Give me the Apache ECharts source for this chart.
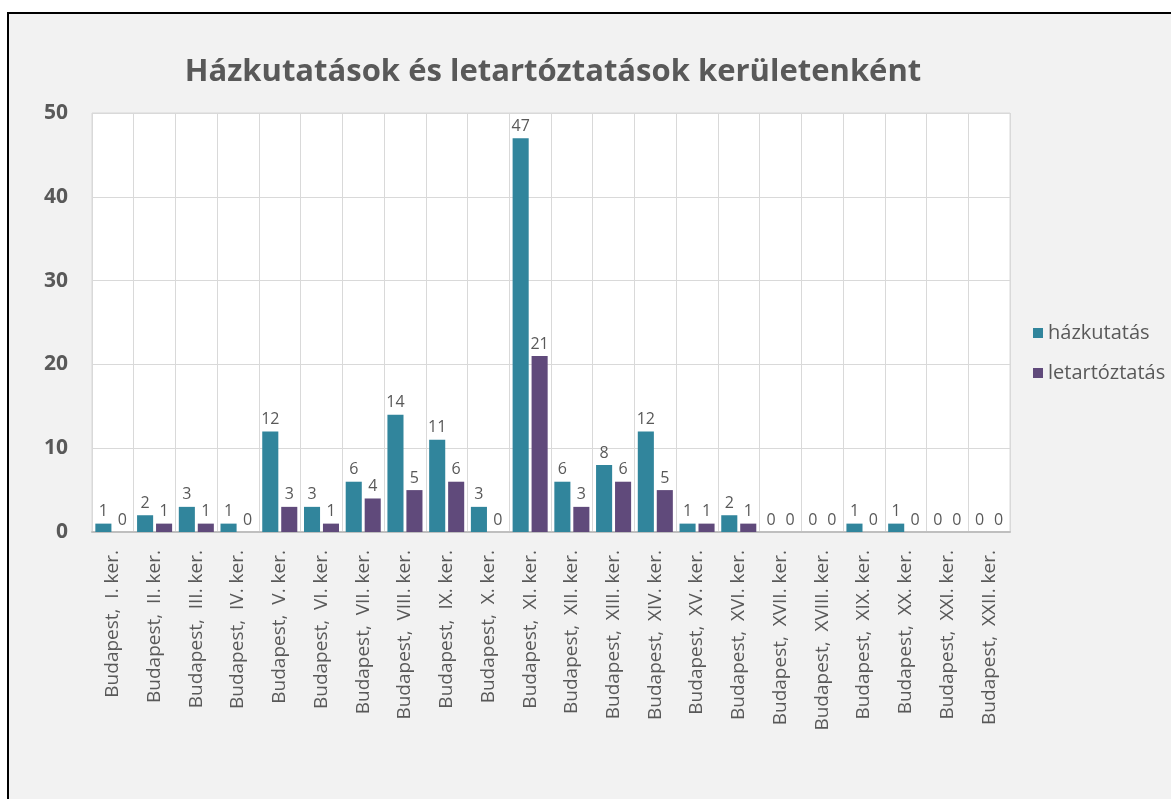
<!DOCTYPE html>
<html>
<head>
<meta charset="utf-8">
<script src="https://cdn.jsdelivr.net/npm/echarts@6/dist/echarts.min.js"></script>
<style>
    html, body { margin: 0; padding: 0; background: #fff; }
    #main {
        position: absolute; left: 7px; top: 12px;
        width: 1164px; height: 787px;
        border-top: 2px solid #000; border-left: 2px solid #000;
        box-sizing: border-box;
    }
</style>
</head>
<body>
<div id="main"></div>
<script>
// kerületek
var categories = ['I.', 'II.', 'III.', 'IV.', 'V.', 'VI.', 'VII.', 'VIII.', 'IX.', 'X.', 'XI.',
    'XII.', 'XIII.', 'XIV.', 'XV.', 'XVI.', 'XVII.', 'XVIII.', 'XIX.', 'XX.', 'XXI.', 'XXII.'].map(function (k) {
    return 'Budapest,  ' + k + ' ker.';
});
var hazkutatas = [1, 2, 3, 1, 12, 3, 6, 14, 11, 3, 47, 6, 8, 12, 1, 2, 0, 0, 1, 1, 0, 0];
var letartoztatas = [0, 1, 1, 0, 3, 1, 4, 5, 6, 0, 21, 3, 6, 5, 1, 1, 0, 0, 0, 0, 0, 0];

var font = 'Open Sans';
var textColor = '#595959';

var myChart = echarts.init(document.getElementById('main'));

var labelStyle = {
    show: true,
    position: 'top',
    distance: 4,
    fontFamily: font,
    fontSize: 16,
    color: textColor
};

var option = {
    backgroundColor: '#f2f2f2',
    animation: false,
    title: {
        text: 'Házkutatások és letartóztatások kerületenként',
        left: 539,
        top: 38,
        textAlign: 'center',
        textStyle: {
            fontFamily: font,
            fontSize: 31,
            fontWeight: 'bold',
            color: textColor
        }
    },
    legend: {
        orient: 'vertical',
        left: 1019,
        top: 304,
        itemWidth: 10,
        itemHeight: 10,
        itemGap: 20,
        icon: 'rect',
        textStyle: { fontFamily: font, fontSize: 20, color: textColor }
    },
    grid: {
        left: 83,
        top: 99,
        width: 918,
        height: 419,
        show: true,
        backgroundColor: '#fff',
        borderColor: '#d9d9d9',
        borderWidth: 1
    },
    xAxis: {
        type: 'category',
        data: categories,
        axisTick: { show: false },
        axisLine: { lineStyle: { color: '#bfbfbf', width: 2 } },
        splitLine: { show: true, lineStyle: { color: '#d9d9d9' } },
        axisLabel: {
            rotate: 90,
            interval: 0,
            margin: 18,
            fontFamily: font,
            fontSize: 19,
            color: textColor
        }
    },
    yAxis: {
        type: 'value',
        min: 0,
        max: 50,
        interval: 10,
        axisLine: { show: false },
        axisTick: { show: false },
        splitLine: { lineStyle: { color: '#d9d9d9' } },
        axisLabel: {
            margin: 24,
            fontFamily: font,
            fontSize: 21,
            fontWeight: 'bold',
            color: textColor
        }
    },
    series: [
        {
            name: 'házkutatás',
            type: 'bar',
            data: hazkutatas,
            barGap: '18%',
            barCategoryGap: '16%',
            itemStyle: { color: '#31859c' },
            label: labelStyle
        },
        {
            name: 'letartóztatás',
            type: 'bar',
            data: letartoztatas,
            itemStyle: { color: '#604a7b' },
            label: labelStyle
        }
    ]
};

myChart.setOption(option);
</script>
</body>
</html>
